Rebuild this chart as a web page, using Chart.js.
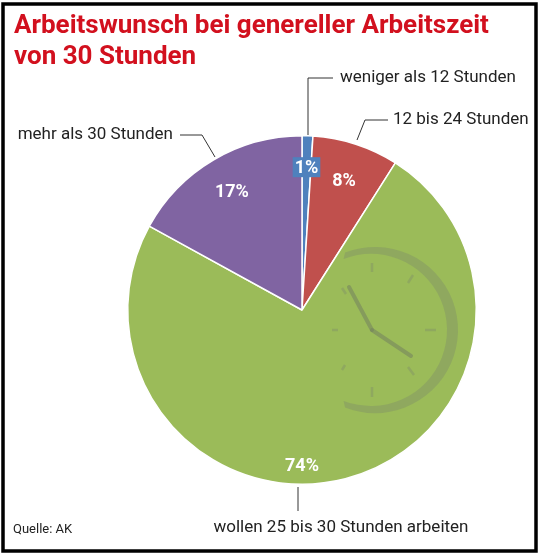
<!DOCTYPE html>
<html>
<head>
<meta charset="utf-8">
<script src="https://cdn.jsdelivr.net/npm/chart.js@4.4.1/dist/chart.umd.min.js"></script>
<style>
  html, body { margin: 0; padding: 0; background: #fff; }
  #wrap { width: 543px; height: 556px; position: relative; }
</style>
</head>
<body>
<div id="wrap"><canvas id="pie" width="543" height="556"></canvas></div>
<script>
// Data
const categories = [
    'weniger als 12 Stunden',
    '12 bis 24 Stunden',
    'wollen 25 bis 30 Stunden arbeiten',
    'mehr als 30 Stunden'
];
const shares = [1, 8, 74, 17];
const sliceColors = ['#4f81bd', '#c0504d', '#9bbb59', '#8064a2'];

// Label placement (fraction of radius, optional angle in degrees clockwise from top)
const labelRadius = [0.82, 0.78, 0.89, 0.79];
const labelAngle = [null, null, 180, null];

// Callouts: leader line points and text anchor
const callouts = [
    { idx: 0, pts: [[308, 135], [308, 78], [333, 78]], text: [340, 78], align: 'left' },
    { idx: 1, pts: [[357, 140], [365, 120], [388, 120]], text: [393, 120], align: 'left' },
    { idx: 3, pts: [[215, 157], [202, 135], [180, 135]], text: [173, 135], align: 'right' },
    { idx: 2, pts: [[298, 487], [298, 511]], text: [341, 528], align: 'center' }
];

const red = '#d2101e';

// decorative clock on the big slice
const clockPlugin = {
    id: 'clock',
    afterDatasetsDraw(chart) {
        const ctx = chart.ctx;
        const col = 'rgba(125, 140, 105, 0.4)';
        ctx.save();
        ctx.fillStyle = col;
        ctx.beginPath();
        ctx.arc(375, 330, 83, -1.94, 1.94, false);
        ctx.arc(371, 330, 76, 1.94, -1.94, true);
        ctx.closePath();
        ctx.fill();

        const ticks = [
            [[372, 263], [372, 272]],
            [[408, 283], [413, 275]],
            [[425, 330], [436, 330]],
            [[408, 367], [414, 375]],
            [[372, 387], [372, 397]],
            [[345, 365], [342, 370]],
            [[332, 330], [338, 330]],
            [[342, 288], [346, 294]]
        ];
        ctx.strokeStyle = col;
        ctx.lineWidth = 2.5;
        ticks.forEach(t => {
            ctx.beginPath();
            ctx.moveTo(t[0][0], t[0][1]);
            ctx.lineTo(t[1][0], t[1][1]);
            ctx.stroke();
        });

        ctx.strokeStyle = 'rgba(115, 130, 95, 0.55)';
        ctx.lineCap = 'round';
        ctx.lineWidth = 4;
        ctx.beginPath();
        ctx.moveTo(372, 330);
        ctx.lineTo(349, 287);
        ctx.stroke();
        ctx.beginPath();
        ctx.moveTo(372, 330);
        ctx.lineTo(411, 356);
        ctx.stroke();
        ctx.restore();
    }
};

const labelPlugin = {
    id: 'sliceLabels',
    afterDraw(chart) {
        const ctx = chart.ctx;
        const meta = chart.getDatasetMeta(0);
        ctx.save();
        ctx.font = 'bold 18px Roboto, "Liberation Sans", sans-serif';
        ctx.textAlign = 'center';
        ctx.textBaseline = 'middle';
        meta.data.forEach((arc, i) => {
            const p = arc.getProps(['x', 'y', 'startAngle', 'endAngle', 'outerRadius'], true);
            let mid = (p.startAngle + p.endAngle) / 2;
            if (labelAngle[i] !== null) mid = labelAngle[i] * Math.PI / 180 - Math.PI / 2;
            const r = p.outerRadius * labelRadius[i];
            const x = p.x + Math.cos(mid) * r;
            const y = p.y + Math.sin(mid) * r;
            const txt = shares[i] + '%';
            if (shares[i] < 3) {
                const w = ctx.measureText(txt).width + 4;
                ctx.fillStyle = sliceColors[i];
                ctx.fillRect(x - w / 2, y - 10, w, 20);
            }
            ctx.fillStyle = '#fff';
            ctx.fillText(txt, x, y + 1);
        });

        // callouts
        ctx.strokeStyle = '#333';
        ctx.lineWidth = 1;
        ctx.font = '17px Roboto, "Liberation Sans", sans-serif';
        ctx.fillStyle = '#222';
        callouts.forEach(c => {
            ctx.beginPath();
            c.pts.forEach((pt, k) => k ? ctx.lineTo(pt[0], pt[1]) : ctx.moveTo(pt[0], pt[1]));
            ctx.stroke();
            ctx.textAlign = c.align;
            ctx.fillText(categories[c.idx], c.text[0], c.text[1]);
        });

        // title
        ctx.fillStyle = red;
        ctx.textAlign = 'left';
        ctx.textBaseline = 'alphabetic';
        ctx.font = 'bold 26px Roboto, "Liberation Sans", sans-serif';
        ctx.fillText('Arbeitswunsch bei genereller Arbeitszeit', 14, 33);
        ctx.fillText('von 30 Stunden', 14, 64);

        // source
        ctx.fillStyle = '#222';
        ctx.font = '13px "Liberation Sans Narrow", "Roboto", sans-serif';
        ctx.textBaseline = 'middle';
        ctx.fillText('Quelle: AK', 13, 530);

        // frame
        ctx.strokeStyle = '#000';
        ctx.lineWidth = 3.5;
        ctx.strokeRect(3, 4, 533, 547);
        ctx.restore();
    }
};

const chart = new Chart(document.getElementById('pie'), {
    type: 'pie',
    data: {
        labels: categories,
        datasets: [{
            data: shares,
            backgroundColor: sliceColors,
            borderColor: '#ffffff',
            borderWidth: 1.5
        }]
    },
    options: {
        responsive: false,
        animation: false,
        layout: {
            padding: { top: 135, bottom: 71, left: 127, right: 66 }
        },
        plugins: {
            legend: { display: false },
            tooltip: { enabled: false },
            title: { display: false }
        }
    },
    plugins: [clockPlugin, labelPlugin]
});
</script>
</body>
</html>
